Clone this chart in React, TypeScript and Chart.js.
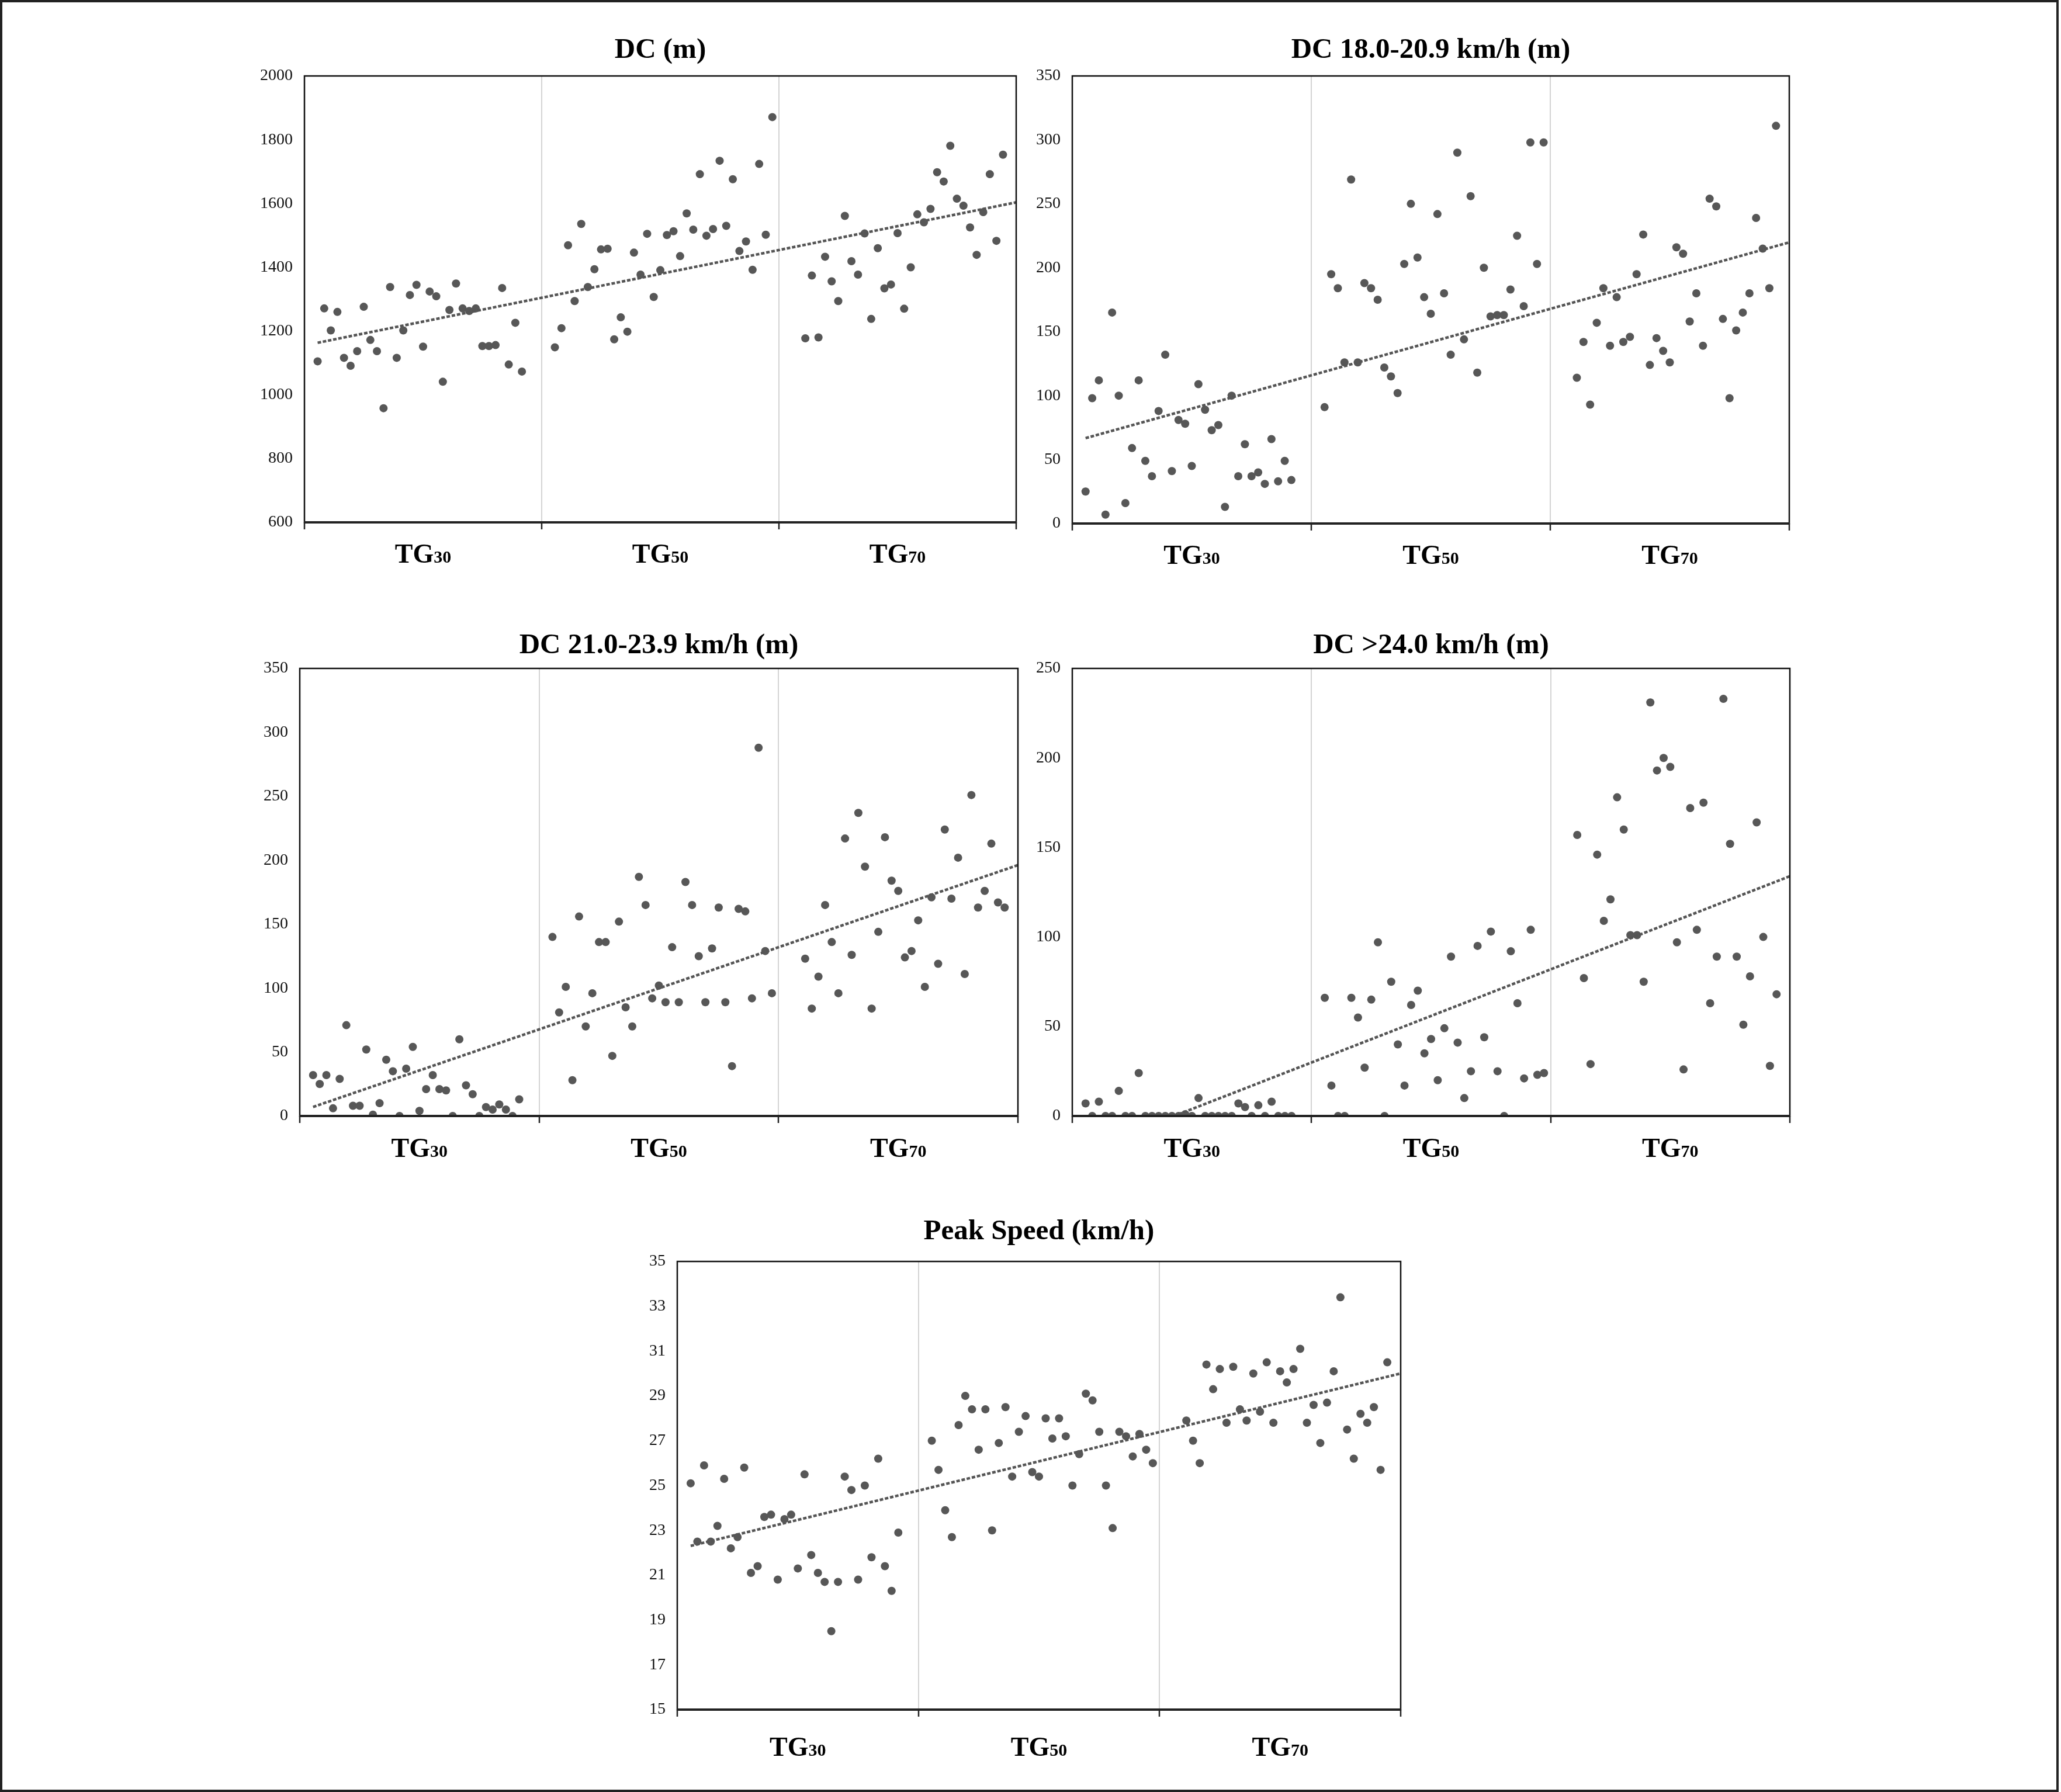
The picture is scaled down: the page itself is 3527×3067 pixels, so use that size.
import React, { useEffect, useRef } from "react";
import { Chart, registerables } from "chart.js";

Chart.register(...registerables);

// ---- shared categories ----
const groupNames = ["TG", "TG", "TG"];
const groupSubs = ["30", "50", "70"];
const groupStarts = [2, 38, 76];
const groupCenters = [18, 54, 90];
const xTicks = [0, 36, 72, 108];

// ---- DC (m) ----
const dcTG30 = [1105, 1271, 1202, 1260, 1116, 1091, 1137, 1276, 1172, 1137, 958, 1338, 1116, 1202, 1313, 1345, 1151, 1324, 1309, 1041, 1266, 1349, 1271, 1263, 1271, 1153, 1153, 1156, 1335, 1095, 1226, 1073];
const dcTG50 = [1149, 1209, 1469, 1294, 1536, 1338, 1394, 1456, 1458, 1174, 1243, 1198, 1446, 1377, 1505, 1307, 1391, 1501, 1513, 1435, 1569, 1518, 1692, 1499, 1520, 1734, 1530, 1676, 1451, 1481, 1392, 1724, 1502, 1871];
const dcTG70 = [1177, 1374, 1180, 1433, 1356, 1294, 1561, 1419, 1377, 1506, 1238, 1460, 1334, 1346, 1507, 1270, 1400, 1566, 1541, 1583, 1698, 1669, 1781, 1615, 1593, 1525, 1439, 1573, 1692, 1483, 1753];

// ---- DC 18.0-20.9 km/h (m) ----
const dc18TG30 = [25, 98, 112, 7, 165, 100, 16, 59, 112, 49, 37, 88, 132, 41, 81, 78, 45, 109, 89, 73, 77, 13, 100, 37, 62, 37, 40, 31, 66, 33, 49, 34];
const dc18TG50 = [91, 195, 184, 126, 269, 126, 188, 184, 175, 122, 115, 102, 203, 250, 208, 177, 164, 242, 180, 132, 290, 144, 256, 118, 200, 162, 163, 163, 183, 225, 170, 298, 203, 298];
const dc18TG70 = [114, 142, 93, 157, 184, 139, 177, 142, 146, 195, 226, 124, 145, 135, 126, 216, 211, 158, 180, 139, 254, 248, 160, 98, 151, 165, 180, 239, 215, 184, 311];

// ---- DC 21.0-23.9 km/h (m) ----
const dc21TG30 = [32, 25, 32, 6, 29, 71, 8, 8, 52, 1, 10, 44, 35, 0, 37, 54, 4, 21, 32, 21, 20, 0, 60, 24, 17, 0, 7, 5, 9, 5, 0, 13];
const dc21TG50 = [140, 81, 101, 28, 156, 70, 96, 136, 136, 47, 152, 85, 70, 187, 165, 92, 102, 89, 132, 89, 183, 165, 125, 89, 131, 163, 89, 39, 162, 160, 92, 288, 129, 96];
const dc21TG70 = [123, 84, 109, 165, 136, 96, 217, 126, 237, 195, 84, 144, 218, 184, 176, 124, 129, 153, 101, 171, 119, 224, 170, 202, 111, 251, 163, 176, 213, 167, 163];

// ---- DC >24.0 km/h (m) ----
const dc24TG30 = [7, 0, 8, 0, 0, 14, 0, 0, 24, 0, 0, 0, 0, 0, 0, 1, 0, 10, 0, 0, 0, 0, 0, 7, 5, 0, 6, 0, 8, 0, 0, 0];
const dc24TG50 = [66, 17, 0, 0, 66, 55, 27, 65, 97, 0, 75, 40, 17, 62, 70, 35, 43, 20, 49, 89, 41, 10, 25, 95, 44, 103, 25, 0, 92, 63, 21, 104, 23, 24];
const dc24TG70 = [157, 77, 29, 146, 109, 121, 178, 160, 101, 101, 75, 231, 193, 200, 195, 97, 26, 172, 104, 175, 63, 89, 233, 152, 89, 51, 78, 164, 100, 28, 68];

// ---- Peak Speed (km/h) ----
const psTG30 = [25.1, 22.5, 25.9, 22.5, 23.2, 25.3, 22.2, 22.7, 25.8, 21.1, 21.4, 23.6, 23.7, 20.8, 23.5, 23.7, 21.3, 25.5, 21.9, 21.1, 20.7, 18.5, 20.7, 25.4, 24.8, 20.8, 25.0, 21.8, 26.2, 21.4, 20.3, 22.9];
const psTG50 = [27.0, 25.7, 23.9, 22.7, 27.7, 29.0, 28.4, 26.6, 28.4, 23.0, 26.9, 28.5, 25.4, 27.4, 28.1, 25.6, 25.4, 28.0, 27.1, 28.0, 27.2, 25.0, 26.4, 29.1, 28.8, 27.4, 25.0, 23.1, 27.4, 27.2, 26.3, 27.3, 26.6, 26.0];
const psTG70 = [27.9, 27.0, 26.0, 30.4, 29.3, 30.2, 27.8, 30.3, 28.4, 27.9, 30.0, 28.3, 30.5, 27.8, 30.1, 29.6, 30.2, 31.1, 27.8, 28.6, 26.9, 28.7, 30.1, 33.4, 27.5, 26.2, 28.2, 27.8, 28.5, 25.7, 30.5];

const FONT = "'Liberation Serif', 'Times New Roman', serif";
const DOT = "#575757";

type Box = { l: number; t: number; r: number; b: number };
type PanelProps = {
  title: string;
  groups: number[][];
  yMin: number;
  yMax: number;
  yStep: number;
  box: Box;
  titleGap: number;
  labelGap: number;
};

const Y_W = 110;
const TOP_PAD = 100;
const X_H = 120;
const RIGHT_PAD = 20;

function Panel({ title, groups, yMin, yMax, yStep, box, titleGap, labelGap }: PanelProps) {
  const ref = useRef<HTMLCanvasElement | null>(null);
  useEffect(() => {
    if (!ref.current) return;
    const pts: { x: number; y: number }[] = [];
    groups.forEach((g, gi) => g.forEach((v, i) => pts.push({ x: groupStarts[gi] + i, y: v })));
    const n = pts.length;
    const mx = pts.reduce((s, p) => s + p.x, 0) / n;
    const my = pts.reduce((s, p) => s + p.y, 0) / n;
    let sxy = 0, sxx = 0;
    pts.forEach((p) => { sxy += (p.x - mx) * (p.y - my); sxx += (p.x - mx) * (p.x - mx); });
    const slope = sxy / sxx;
    const icpt = my - slope * mx;
    const x0 = groupStarts[0];
    const x1 = xTicks[xTicks.length - 1];
    const trend = [{ x: x0, y: icpt + slope * x0 }, { x: x1, y: icpt + slope * x1 }];

    const decor = {
      id: "decor",
      afterDraw(chart: any) {
        const ctx = chart.ctx;
        const a = chart.chartArea;
        ctx.save();
        // frame
        ctx.strokeStyle = "#111";
        ctx.lineWidth = 2.5;
        ctx.strokeRect(a.left, a.top, a.right - a.left, a.bottom - a.top);
        ctx.lineWidth = 4;
        ctx.strokeStyle = "#222";
        ctx.beginPath();
        ctx.moveTo(a.left - 1, a.bottom);
        ctx.lineTo(a.right + 1, a.bottom);
        ctx.stroke();
        // title
        ctx.fillStyle = "#000";
        ctx.font = `bold 49px ${FONT}`;
        ctx.textAlign = "center";
        ctx.textBaseline = "middle";
        ctx.fillText(title, (a.left + a.right) / 2, a.top - titleGap);
        // group labels
        const xs = chart.scales.x;
        ctx.textBaseline = "alphabetic";
        ctx.textAlign = "left";
        groupCenters.forEach((c, i) => {
          const cx = xs.getPixelForValue(c);
          ctx.font = `bold 46px ${FONT}`;
          const w1 = ctx.measureText(groupNames[i]).width;
          ctx.font = `bold 30px ${FONT}`;
          const w2 = ctx.measureText(groupSubs[i]).width;
          const sx = cx - (w1 + w2) / 2;
          const by = a.bottom + labelGap;
          ctx.font = `bold 46px ${FONT}`;
          ctx.fillText(groupNames[i], sx, by);
          ctx.font = `bold 30px ${FONT}`;
          ctx.fillText(groupSubs[i], sx + w1, by);
        });
        ctx.restore();
      },
    };

    const chart = new Chart(ref.current, {
      type: "scatter",
      data: {
        datasets: [
          {
            data: trend,
            showLine: true,
            borderColor: "#555",
            borderWidth: 4.5,
            borderDash: [6, 3],
            pointRadius: 0,
            clip: 0,
          } as any,
          {
            data: pts,
            backgroundColor: DOT,
            borderColor: DOT,
            borderWidth: 0,
            pointRadius: 7,
          },
        ],
      },
      options: {
        animation: false,
        responsive: true,
        maintainAspectRatio: false,
        layout: { padding: { top: TOP_PAD, right: RIGHT_PAD, left: 0, bottom: 0 } },
        plugins: { legend: { display: false }, tooltip: { enabled: false }, title: { display: false } },
        scales: {
          x: {
            type: "linear",
            min: 0,
            max: xTicks[xTicks.length - 1],
            afterBuildTicks: (s: any) => { s.ticks = xTicks.map((v) => ({ value: v })); },
            afterFit: (s: any) => { s.height = X_H; },
            ticks: { display: false },
            border: { display: false },
            grid: {
              display: true,
              color: "#d4d4d4",
              lineWidth: 2,
              drawTicks: true,
              tickLength: 12,
              tickColor: "#222",
              tickWidth: 2.5,
            } as any,
          },
          y: {
            type: "linear",
            min: yMin,
            max: yMax,
            afterFit: (s: any) => { s.width = Y_W; },
            ticks: {
              stepSize: yStep,
              color: "#111",
              padding: 20,
              font: { family: FONT, size: 28 },
              callback: (v: any) => String(v),
            },
            border: { display: false },
            grid: { display: false, drawTicks: false },
          },
        },
      },
      plugins: [decor],
    });
    return () => chart.destroy();
  }, []);

  const style: React.CSSProperties = {
    position: "absolute",
    left: box.l - Y_W,
    top: box.t - TOP_PAD,
    width: box.r - box.l + Y_W + RIGHT_PAD,
    height: box.b - box.t + TOP_PAD + X_H,
  };
  return (
    <div style={style}>
      <canvas ref={ref} />
    </div>
  );
}

export default function App() {
  return (
    <div style={{ position: "absolute", left: 0, top: 0, width: 3527, height: 3067, background: "#fff", overflow: "hidden" }}>
      <div style={{ position: "absolute", left: 0, top: 0, width: 3523, height: 3067, border: "4px solid #222", boxSizing: "border-box" }} />
      <Panel title="DC (m)" groups={[dcTG30, dcTG50, dcTG70]} yMin={600} yMax={2000} yStep={200}
        box={{ l: 521, t: 130, r: 1739, b: 894 }} titleGap={44} labelGap={69} />
      <Panel title="DC 18.0-20.9 km/h (m)" groups={[dc18TG30, dc18TG50, dc18TG70]} yMin={0} yMax={350} yStep={50}
        box={{ l: 1835, t: 130, r: 3062, b: 896 }} titleGap={44} labelGap={69} />
      <Panel title="DC 21.0-23.9 km/h (m)" groups={[dc21TG30, dc21TG50, dc21TG70]} yMin={0} yMax={350} yStep={50}
        box={{ l: 513, t: 1144, r: 1742, b: 1910 }} titleGap={39} labelGap={70} />
      <Panel title="DC >24.0 km/h (m)" groups={[dc24TG30, dc24TG50, dc24TG70]} yMin={0} yMax={250} yStep={50}
        box={{ l: 1835, t: 1144, r: 3063, b: 1910 }} titleGap={39} labelGap={70} />
      <Panel title="Peak Speed (km/h)" groups={[psTG30, psTG50, psTG70]} yMin={15} yMax={35} yStep={2}
        box={{ l: 1159, t: 2159, r: 2397, b: 2926 }} titleGap={51} labelGap={79} />
    </div>
  );
}
